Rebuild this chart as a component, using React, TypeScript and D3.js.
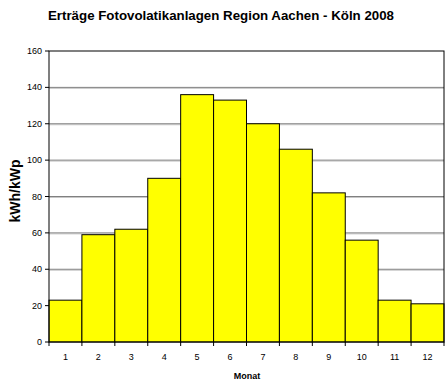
import React from "react";
import * as d3 from "d3";

const months = ["1", "2", "3", "4", "5", "6", "7", "8", "9", "10", "11", "12"];
const values = [23, 59, 62, 90, 136, 133, 120, 106, 82, 56, 23, 21];
const yTicks = [0, 20, 40, 60, 80, 100, 120, 140, 160];
const title = "Erträge Fotovolatikanlagen Region Aachen - Köln 2008";
const yLabel = "kWh/kWp";
const xLabel = "Monat";

export default function App() {
  const W = 447, H = 384;
  const left = 49, right = 444, top = 51, bottom = 342;
  const x = d3.scaleBand<string>().domain(months).range([left, right]).padding(0);
  const y = d3.scaleLinear().domain([0, 160]).range([bottom, top]);
  const font = "'Liberation Sans', Arial, sans-serif";
  const bw = x.bandwidth();
  return (
    <svg width={W} height={H} style={{ position: "absolute", left: 0, top: 0, background: "#fff" }} fontFamily={font}>
      <text x={221} y={20} textAnchor="middle" fontSize={13.3} fontWeight="bold">{title}</text>
      {yTicks.filter(t => t > 0 && t < 160).map(t => (
        <g key={t}>
          <line x1={left} x2={right} y1={y(t) + 1} y2={y(t) + 1} stroke="#c8c8c8" strokeWidth={1} />
          <line x1={left} x2={right} y1={y(t)} y2={y(t)} stroke="#808080" strokeWidth={1} />
        </g>
      ))}
      {values.map((v, i) => (
        <rect key={i} x={x(months[i])!} y={y(v)} width={bw} height={bottom - y(v)} fill="#ffff00" stroke="#000" strokeWidth={1} />
      ))}
      <rect x={left} y={top} width={right - left} height={bottom - top} fill="none" stroke="#000" strokeWidth={1} />
      {yTicks.map(t => (
        <g key={t}>
          <line x1={left - 4} x2={left} y1={y(t)} y2={y(t)} stroke="#000" />
          <text x={left - 7} y={y(t) + 3} textAnchor="end" fontSize={9}>{t}</text>
        </g>
      ))}
      {months.map((m, i) => (
        <g key={m}>
          <line x1={x(m)!} x2={x(m)!} y1={bottom} y2={bottom + 4} stroke="#000" />
          <text x={x(m)! + bw / 2} y={360} textAnchor="middle" fontSize={9}>{m}</text>
        </g>
      ))}
      <line x1={right} x2={right} y1={bottom} y2={bottom + 4} stroke="#000" />
      <text x={247} y={379} textAnchor="middle" fontSize={9} fontWeight="bold">{xLabel}</text>
      <text transform={`translate(20,191) rotate(-90)`} textAnchor="middle" fontSize={14} fontWeight="bold">{yLabel}</text>
    </svg>
  );
}
